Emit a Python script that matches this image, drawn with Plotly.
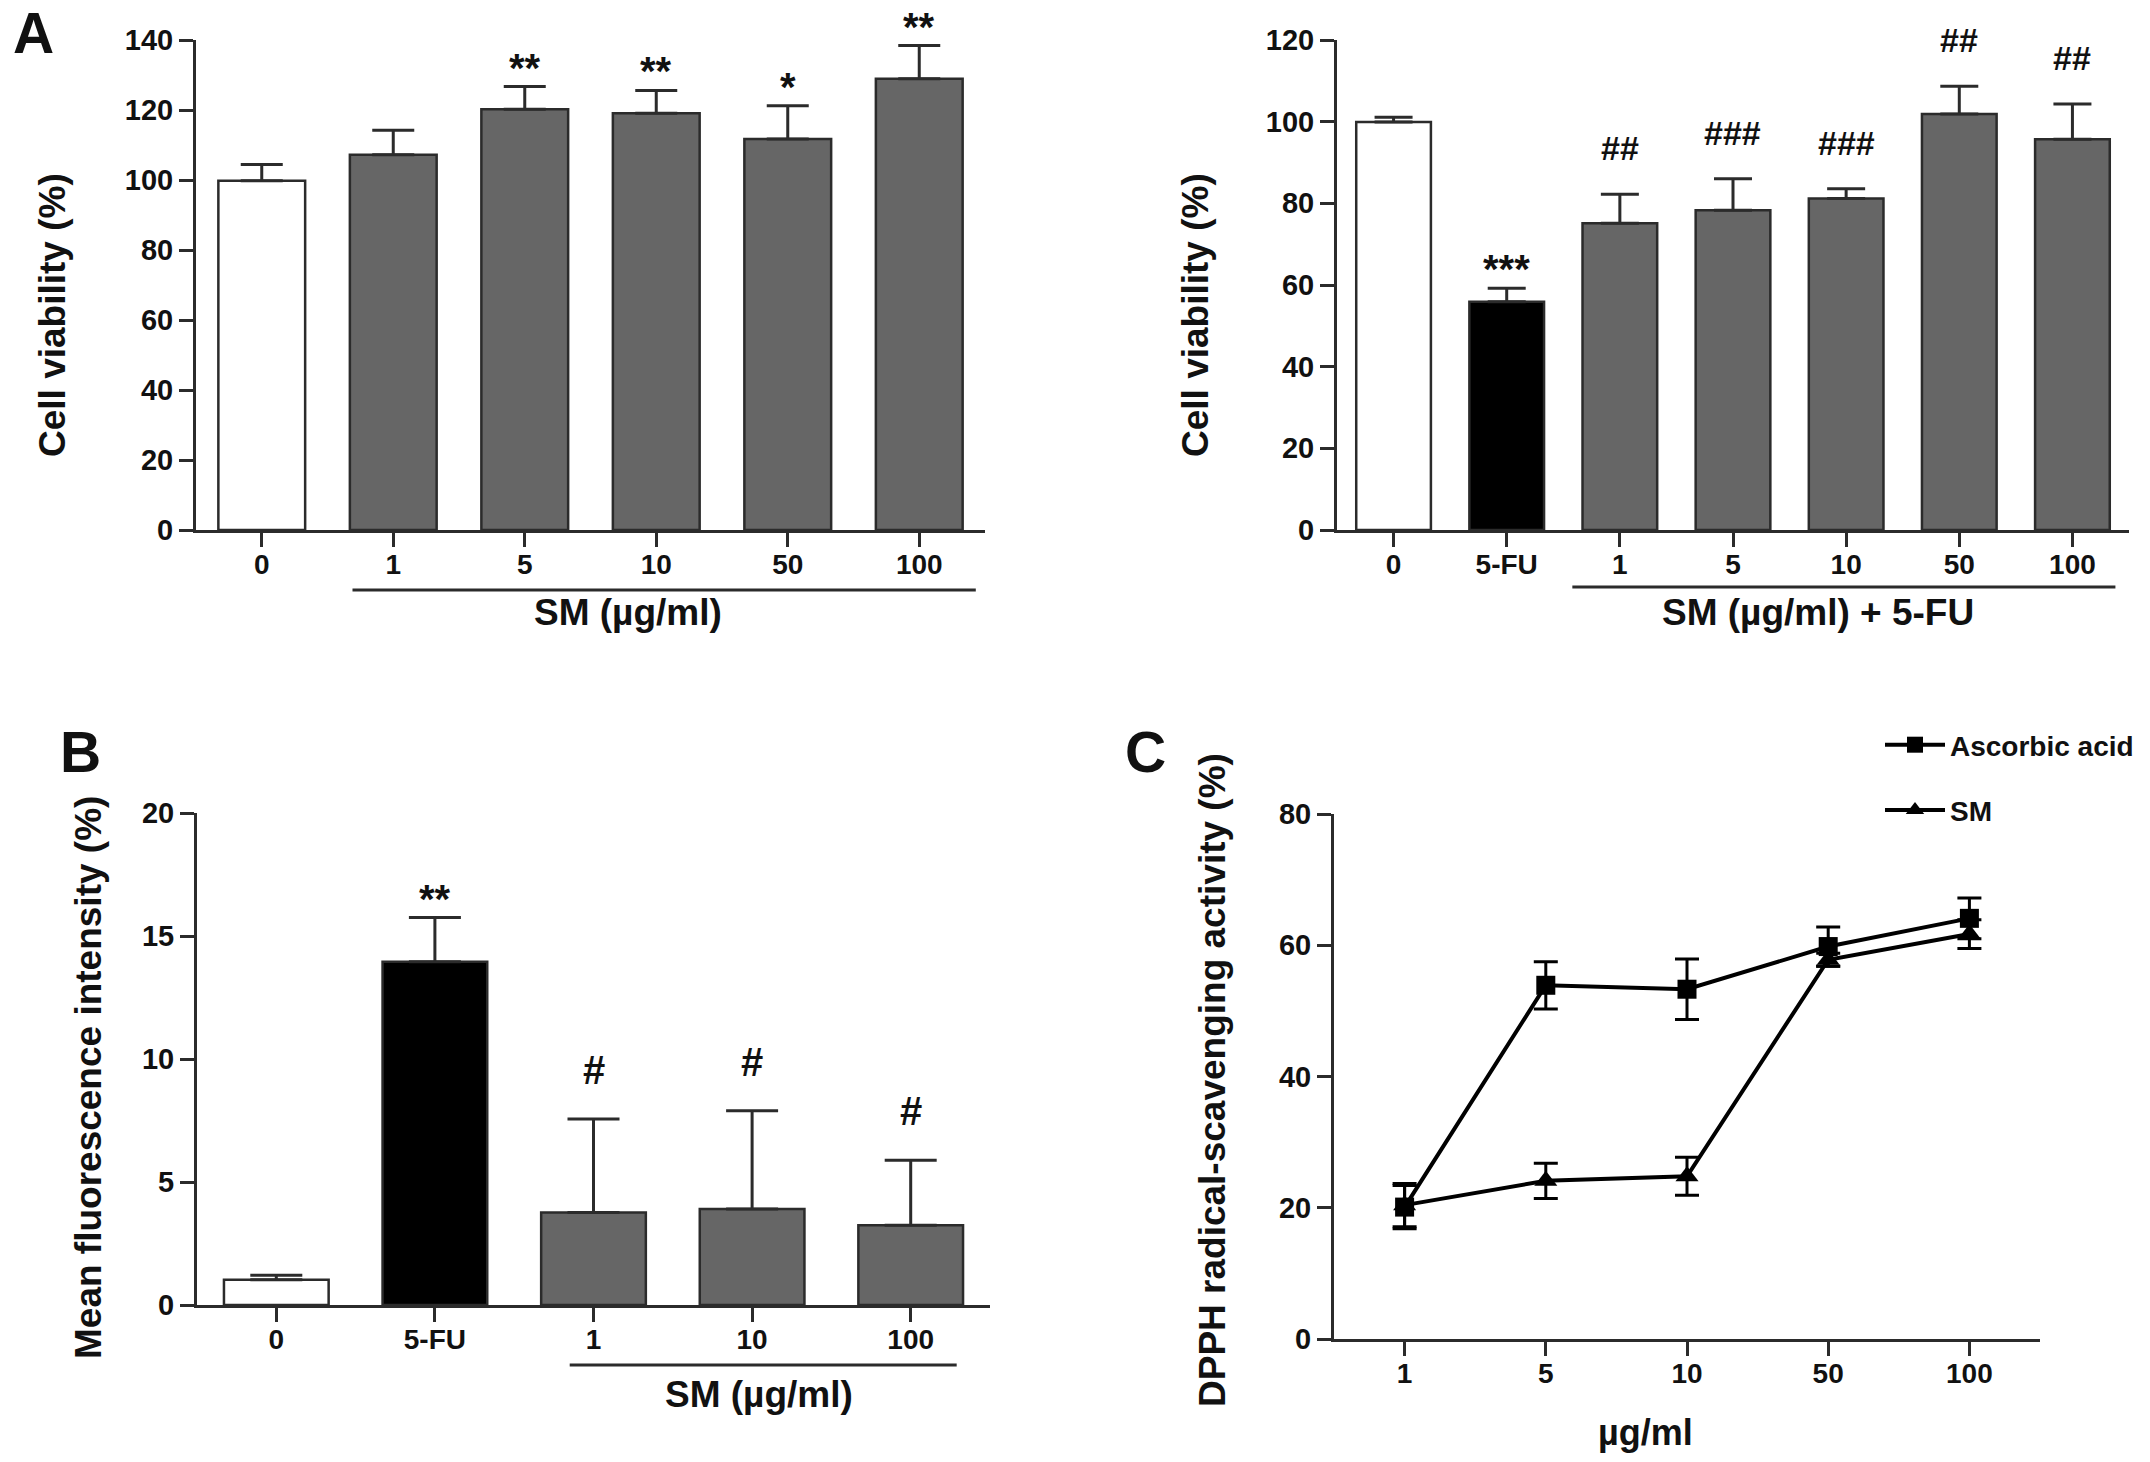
import plotly.graph_objects as go

W, H = 2150, 1462

# ---- data ----
# A, left: SM alone
a1_labels = ['0', '1', '5', '10', '50', '100']
a1_values = [99.8, 107.2, 120.2, 119.1, 111.7, 128.9]
a1_errors = [4.6, 7.0, 6.5, 6.5, 9.5, 9.5]
a1_marks = ['', '', '**', '**', '*', '**']

# A, right: SM + 5-FU
a2_labels = ['0', '5-FU', '1', '5', '10', '50', '100']
a2_values = [99.9, 55.9, 75.1, 78.3, 81.2, 101.9, 95.7]
a2_errors = [1.2, 3.3, 7.1, 7.7, 2.4, 6.8, 8.6]
a2_marks = ['', '***', '##', '###', '###', '##', '##']

# B: mean fluorescence intensity
b_labels = ['0', '5-FU', '1', '10', '100']
b_values = [1.03, 13.95, 3.76, 3.9, 3.24]
b_errors = [0.18, 1.8, 3.8, 4.0, 2.64]
b_marks = ['', '**', '#', '#', '#']

# C: DPPH radical-scavenging activity
c_labels = ['1', '5', '10', '50', '100']
c_ascorbic = [20.1, 53.9, 53.3, 59.8, 64.1]
c_ascorbic_err = [3.3, 3.6, 4.6, 3.0, 3.1]
c_sm = [20.4, 24.1, 24.8, 57.8, 61.7]
c_sm_err = [3.3, 2.7, 2.9, 1.0, 2.2]

WHITE, BLACK, GREY = '#ffffff', '#000000', '#666666'
a1_colors = [WHITE] + [GREY] * 5
a2_colors = [WHITE, BLACK] + [GREY] * 5
b_colors = [WHITE, BLACK] + [GREY] * 3

FONT = 'Liberation Sans, Arial, Helvetica, sans-serif'
INK = '#2b2b2b'


def px_x(p):
    return p / W


def px_y(p):
    return 1 - p / H


def bar(labels, values, errors, colors, xa, ya, cap):
    return go.Bar(
        x=labels, y=values, xaxis=xa, yaxis=ya,
        marker=dict(color=colors, line=dict(color=INK, width=2.5)),
        error_y=dict(type='data', array=errors, arrayminus=[0] * len(errors),
                     symmetric=False, color=INK, thickness=3, width=cap),
        showlegend=False,
    )


fig = go.Figure()
fig.add_trace(bar(a1_labels, a1_values, a1_errors, a1_colors, 'x', 'y', 21))
fig.add_trace(bar(a2_labels, a2_values, a2_errors, a2_colors, 'x2', 'y2', 19))
fig.add_trace(bar(b_labels, b_values, b_errors, b_colors, 'x3', 'y3', 26))

fig.add_trace(go.Scatter(
    x=c_labels, y=c_ascorbic, xaxis='x4', yaxis='y4', name='Ascorbic acid',
    mode='lines+markers', line=dict(color=BLACK, width=4),
    marker=dict(symbol='square', size=19, color=BLACK),
    error_y=dict(type='data', array=c_ascorbic_err, color=BLACK, thickness=3, width=12),
    legendgroup='aa',
))
fig.add_trace(go.Scatter(
    x=c_labels, y=c_sm, xaxis='x4', yaxis='y4', name='SM',
    mode='lines+markers', line=dict(color=BLACK, width=4),
    marker=dict(symbol='triangle-up', size=20, color=BLACK),
    error_y=dict(type='data', array=c_sm_err, color=BLACK, thickness=3, width=12),
    legendgroup='sm',
))


def xaxis(x0, x1, anchor, n):
    return dict(
        domain=[px_x(x0), px_x(x1)], anchor=anchor, type='category',
        range=[-0.5, n - 0.5], showline=True, linewidth=3, linecolor=INK,
        ticks='outside', ticklen=14, tickwidth=3, tickcolor=INK,
        ticklabelstandoff=-7,
        tickfont=dict(family=FONT, size=28, color='#111', weight='bold'),
        showgrid=False, zeroline=False, fixedrange=True, automargin=False,
    )


def yaxis(y_top, y_bot, anchor, top, step):
    return dict(
        domain=[px_y(y_bot), px_y(y_top)], anchor=anchor,
        range=[0, top], tick0=0, dtick=step, showline=True, linewidth=3,
        linecolor=INK, ticks='outside', ticklen=14, tickwidth=3, tickcolor=INK,
        tickfont=dict(family=FONT, size=29, color='#111', weight='bold'),
        showgrid=False, zeroline=False, fixedrange=True, automargin=False,
    )


fig.update_layout(
    width=W, height=H, margin=dict(l=0, r=0, t=0, b=0, autoexpand=False),
    paper_bgcolor='white', plot_bgcolor='white',
    bargap=0.34,
    xaxis=xaxis(196, 985, 'y', len(a1_labels)),
    yaxis=yaxis(40, 530, 'x', 140, 20),
    xaxis2=xaxis(1337, 2129, 'y2', len(a2_labels)),
    yaxis2=yaxis(40, 530, 'x2', 120, 20),
    xaxis3=xaxis(197, 990, 'y3', len(b_labels)),
    yaxis3=yaxis(813, 1305, 'x3', 20, 5),
    xaxis4=xaxis(1334, 2040, 'y4', len(c_labels)),
    yaxis4=yaxis(814, 1339, 'x4', 80, 20),
    legend=dict(x=px_x(1880), y=px_y(720), xanchor='left', yanchor='top',
                font=dict(family=FONT, size=28, color='#111', weight='bold'),
                bgcolor='rgba(0,0,0,0)', tracegroupgap=26, itemwidth=60),
)

annotations = []


def text(x, y, s, size, angle=0, xref='paper', yref='paper', yanchor='middle', yshift=0):
    annotations.append(dict(
        x=x, y=y, xref=xref, yref=yref, text=s, showarrow=False, textangle=angle,
        xanchor='center', yanchor=yanchor, yshift=yshift,
        font=dict(family=FONT, size=size, color='#111', weight='bold')))


# panel letters
text(px_x(33), px_y(33), 'A', 57)
text(px_x(80), px_y(752), 'B', 57)
text(px_x(1145), px_y(752), 'C', 57)

# axis titles
text(px_x(52), px_y(315), 'Cell viability (%)', 37, -90)
text(px_x(1195), px_y(315), 'Cell viability (%)', 37, -90)
text(px_x(88), px_y(1078), 'Mean fluorescence intensity (%)', 37, -90)
text(px_x(1212), px_y(1080), 'DPPH radical-scavenging activity (%)', 37, -90)

# group labels under the x axes
text(px_x(628), px_y(612), 'SM (µg/ml)', 37)
text(px_x(1818), px_y(612), 'SM (µg/ml) + 5-FU', 37)
text(px_x(759), px_y(1394), 'SM (µg/ml)', 37)
text(px_x(1645), px_y(1432), 'µg/ml', 36)


# significance marks above the error bars (x by category index)
def marks(values, errors, signs, xr, yr, star_size, hash_size):
    for i, (v, e, s) in enumerate(zip(values, errors, signs)):
        if not s:
            continue
        star = s.startswith('*')
        text(i, v + e, s, star_size if star else hash_size, xref=xr, yref=yr,
             yanchor='bottom', yshift=-5 if star else 25)


marks(a1_values, a1_errors, a1_marks, 'x', 'y', 40, 34)
marks(a2_values, a2_errors, a2_marks, 'x2', 'y2', 40, 34)
marks(b_values, b_errors, b_marks, 'x3', 'y3', 40, 40)

fig.update_layout(annotations=annotations)

# group underlines
for xr, x0, x1, y in [('x', 0.69, 5.43, 590), ('x2', 1.58, 6.38, 587),
                      ('x3', 1.85, 4.29, 1365)]:
    fig.add_shape(type='line', xref=xr, yref='paper', x0=x0, x1=x1,
                  y0=px_y(y), y1=px_y(y), line=dict(color=INK, width=3))

# drop the default page margin so the figure fills the window exactly
fig.write_html('out.html', config={'displayModeBar': False},
               post_script="document.body.style.margin='0';")
